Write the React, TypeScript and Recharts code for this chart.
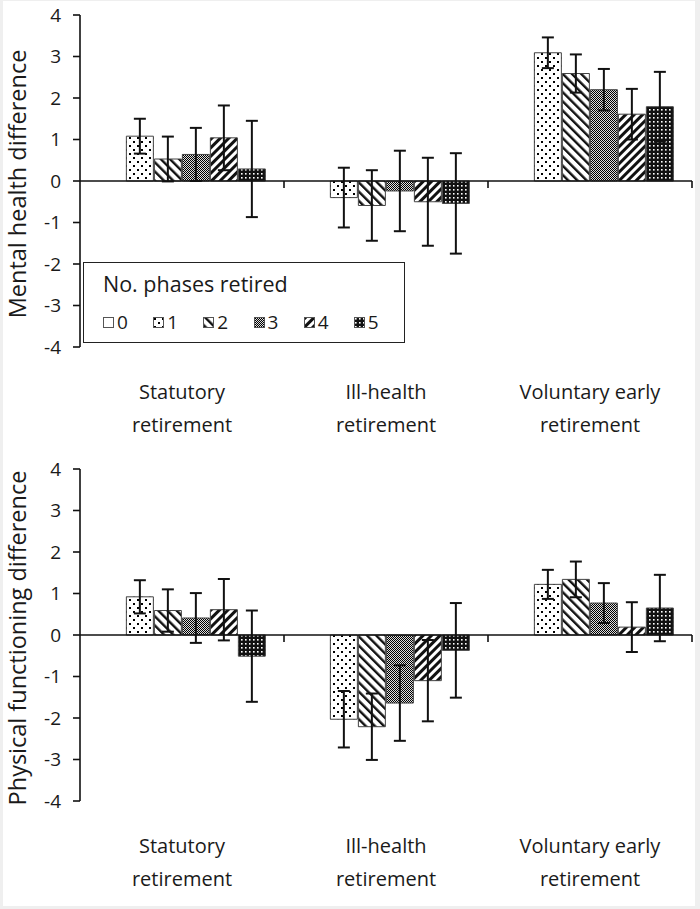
import React from "react";
import { BarChart, Bar, XAxis, YAxis, ReferenceLine, ErrorBar, Legend } from "recharts";

const FONT = "'Open Sans', sans-serif";
const INK = "#1a1a1a";

const categories = ["Statutory retirement", "Ill-health retirement", "Voluntary early retirement"];
const phases = ["0", "1", "2", "3", "4", "5"];
const yTicks = [-4, -3, -2, -1, 0, 1, 2, 3, 4];

// mental health difference, one array per phase (statutory, ill-health, voluntary)
const mental0 = [0, 0, 0];
const mental1 = [1.08, -0.4, 3.09];
const mental2 = [0.53, -0.59, 2.59];
const mental3 = [0.64, -0.24, 2.2];
const mental4 = [1.04, -0.5, 1.61];
const mental5 = [0.29, -0.54, 1.79];
const mentalErr1 = [0.42, 0.72, 0.37];
const mentalErr2 = [0.54, 0.85, 0.46];
const mentalErr3 = [0.64, 0.97, 0.5];
const mentalErr4 = [0.78, 1.06, 0.61];
const mentalErr5 = [1.16, 1.21, 0.84];

// physical functioning difference
const physical0 = [0, 0, 0];
const physical1 = [0.92, -2.03, 1.22];
const physical2 = [0.59, -2.21, 1.34];
const physical3 = [0.41, -1.64, 0.77];
const physical4 = [0.61, -1.1, 0.19];
const physical5 = [-0.51, -0.37, 0.65];
const physicalErr1 = [0.4, 0.68, 0.35];
const physicalErr2 = [0.51, 0.8, 0.43];
const physicalErr3 = [0.6, 0.91, 0.48];
const physicalErr4 = [0.74, 0.98, 0.6];
const physicalErr5 = [1.1, 1.14, 0.8];

function buildRows(values: number[][], errors: number[][]) {
  return categories.map((cat, i) => {
    const row: Record<string, any> = { cat };
    values.forEach((v, k) => (row["p" + k] = v[i]));
    errors.forEach((e, k) => (row["e" + (k + 1)] = e[i]));
    return row;
  });
}

const mentalRows = buildRows(
  [mental0, mental1, mental2, mental3, mental4, mental5],
  [mentalErr1, mentalErr2, mentalErr3, mentalErr4, mentalErr5]
);
const physicalRows = buildRows(
  [physical0, physical1, physical2, physical3, physical4, physical5],
  [physicalErr1, physicalErr2, physicalErr3, physicalErr4, physicalErr5]
);

function patternDefs(id: string) {
  return (
    <defs>
      <pattern id={`${id}-1`} width={8} height={8} patternUnits="userSpaceOnUse">
        <rect width={8} height={8} fill="#fff" />
        <rect x={1} y={1} width={2} height={2} fill="#000" />
        <rect x={5} y={5} width={2} height={2} fill="#000" />
      </pattern>
      <pattern id={`${id}-2`} width={6.5} height={6.5} patternUnits="userSpaceOnUse" patternTransform="rotate(-45)">
        <rect width={6.5} height={6.5} fill="#fff" />
        <rect width={2.4} height={6.5} fill="#111" />
      </pattern>
      <pattern id={`${id}-3`} width={2} height={2} patternUnits="userSpaceOnUse">
        <rect width={2} height={2} fill="#ddd" />
        <rect width={1} height={1} fill="#000" />
        <rect x={1} y={1} width={1} height={1} fill="#000" />
      </pattern>
      <pattern id={`${id}-4`} width={6} height={6} patternUnits="userSpaceOnUse" patternTransform="rotate(45)">
        <rect width={6} height={6} fill="#fff" />
        <rect width={3} height={6} fill="#111" />
      </pattern>
      <pattern id={`${id}-5`} width={4} height={4} patternUnits="userSpaceOnUse">
        <rect width={4} height={4} fill="#111" />
        <rect x={1} y={1} width={1.6} height={1.6} fill="#fff" />
      </pattern>
    </defs>
  );
}

const fillFor = (id: string, k: number) => (k === 0 ? "#fff" : `url(#${id}-${k})`);

function ZeroLine(props: any) {
  const { x1, x2, y1 } = props;
  const n = categories.length;
  const marks = categories.map((_, i) => x1 + ((x2 - x1) * (i + 1)) / n);
  return (
    <g>
      <line x1={x1} x2={x2} y1={y1} y2={y1} stroke="#111" strokeWidth={1.6} />
      {marks.map((x) => (
        <line key={x} x1={x} x2={x} y1={y1} y2={y1 + 7} stroke="#111" strokeWidth={1.6} />
      ))}
    </g>
  );
}

function CategoryTick({ x, y, payload }: any) {
  const label: string = payload.value;
  const cut = label.lastIndexOf(" ");
  return (
    <text x={x} y={y} textAnchor="middle" fontSize={20} fontFamily={FONT} fill={INK}>
      <tspan x={x} dy={52}>{label.slice(0, cut)}</tspan>
      <tspan x={x} dy={33}>{label.slice(cut + 1)}</tspan>
    </text>
  );
}

function SideLabel({ viewBox, text }: any) {
  const cx = viewBox.x + 17;
  const cy = viewBox.y + viewBox.height / 2 + 3;
  return (
    <text x={cx} y={cy} transform={`rotate(-90 ${cx} ${cy})`} textAnchor="middle" dominantBaseline="central"
      fontSize={23.5} fontFamily={FONT} fill={INK}>
      {text}
    </text>
  );
}

function PhaseLegend({ payload }: any) {
  return (
    <div style={{ border: "1.5px solid #222", background: "#fff", width: 322, height: 81, boxSizing: "border-box",
      padding: "7px 0 0 19px", fontFamily: FONT, color: INK }}>
      <div style={{ fontSize: 21.5, lineHeight: "28px" }}>No. phases retired</div>
      <div style={{ display: "flex", marginTop: 13 }}>
        {(payload || []).map((p: any, i: number) => (
          <div key={i} style={{ width: 51, display: "flex", alignItems: "center", fontSize: 19, lineHeight: "22px" }}>
            <svg width={11} height={11} style={{ marginRight: 3 }}>
              {patternDefs("lg" + i)}
              <rect x={0.5} y={0.5} width={10} height={10} fill={fillFor("lg" + i, i)} stroke="#555" />
            </svg>
            {p.value}
          </div>
        ))}
      </div>
    </div>
  );
}

function Panel({ rows, yLabel, id, height, axisHeight, legend }: any) {
  return (
    <BarChart width={700} height={height} data={rows} margin={{ top: 15, right: 8, bottom: 3, left: 0 }}
      barCategoryGap="9%" barGap={1}>
      {patternDefs(id)}
      <XAxis dataKey="cat" interval={0} axisLine={false} tickLine={false} tickSize={0} tickMargin={0}
        height={axisHeight} tick={<CategoryTick />} />
      <YAxis domain={[-4, 4]} ticks={yTicks} interval={0} width={80} tickSize={7} tickMargin={12}
        axisLine={{ stroke: "#111", strokeWidth: 1.6 }} tickLine={{ stroke: "#111", strokeWidth: 1.6 }}
        tick={{ fontSize: 19, fill: INK, fontFamily: FONT }} label={<SideLabel text={yLabel} />} />
      {phases.map((ph, k) => (
        <Bar key={ph} dataKey={"p" + k} name={ph} fill={fillFor(id, k)} stroke="#444" strokeWidth={1}
          isAnimationActive={false}>
          {k > 0 && (
            <ErrorBar dataKey={"e" + k} width={6} stroke="#111" strokeWidth={2} isAnimationActive={false} />
          )}
        </Bar>
      ))}
      <ReferenceLine y={0} shape={(p: any) => <ZeroLine {...p} />} />
      {legend && (
        <Legend layout="horizontal" verticalAlign="middle" align="center" content={<PhaseLegend />}
          wrapperStyle={{ left: 83, top: 262, width: 322, height: 81 }} />
      )}
    </BarChart>
  );
}

export default function App() {
  return (
    <div style={{ position: "fixed", left: 0, top: 0, width: 700, height: 909, background: "#efefef" }}>
      <div style={{ position: "absolute", left: 3, top: 1, width: 692, height: 905, background: "#fff" }} />
      <div style={{ position: "absolute", left: 0, top: 0 }}>
        <Panel rows={mentalRows} yLabel="Mental health difference" id="mh" height={454} axisHeight={104} legend />
      </div>
      <div style={{ position: "absolute", left: 0, top: 454 }}>
        <Panel rows={physicalRows} yLabel="Physical functioning difference" id="pf" height={455} axisHeight={105} />
      </div>
    </div>
  );
}
